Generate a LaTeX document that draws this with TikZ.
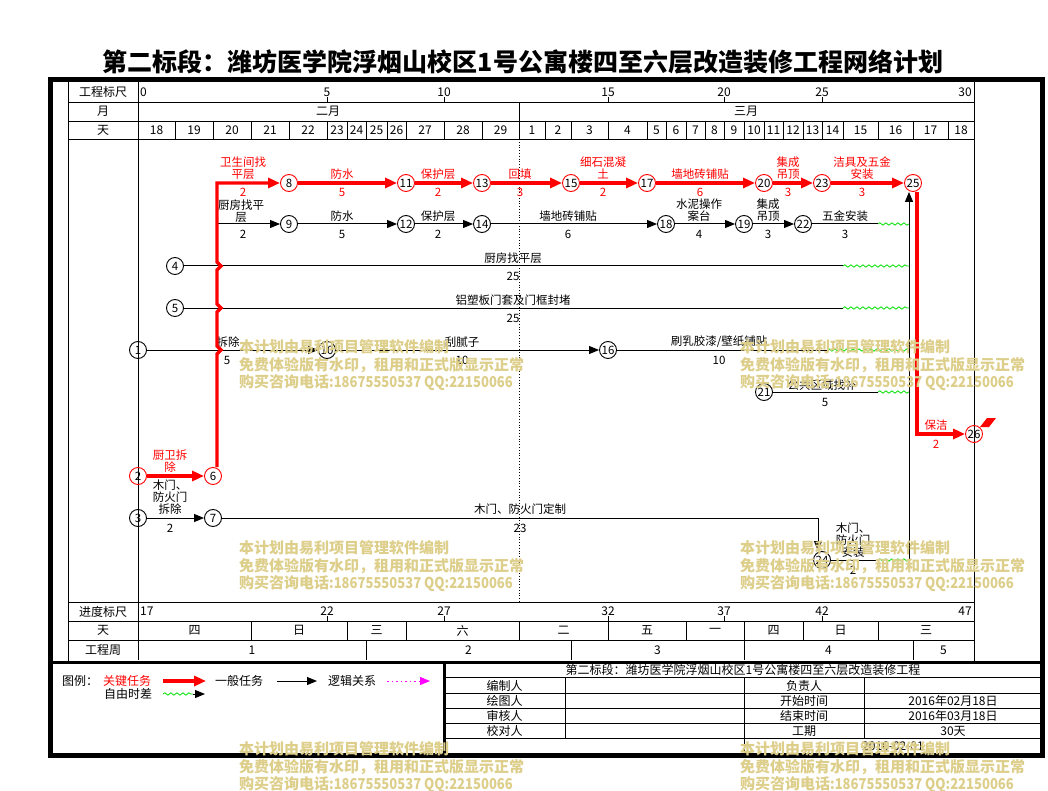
\documentclass[tikz,border=0pt]{standalone}
\usepackage{fontspec}
\setmainfont{Noto Sans CJK SC}
\usetikzlibrary{arrows.meta,decorations.pathmorphing}
\definecolor{wm}{RGB}{221,206,138}
\definecolor{wavec}{RGB}{0,225,0}
\definecolor{mag}{RGB}{255,0,255}
\begin{document}
\begin{tikzpicture}[x=1pt,y=-1pt,
  ev/.style={circle,draw,line width=0.9pt,inner sep=0pt,minimum size=17pt,font=\fontsize{11.5}{11.5}\selectfont},
  evr/.style={ev,draw=red},
  crit/.style={draw=red,line width=3.2pt,-{Triangle[length=12pt,width=10pt]}},
  norm/.style={draw=black,line width=1pt,-{Triangle[length=10pt,width=8pt]}},
  norml/.style={draw=black,line width=1pt},
  fw/.style={draw=wavec,line width=0.8pt,decorate,decoration={snake,amplitude=1.2pt,segment length=6pt}},
  lbl/.style={font=\fontsize{11.5}{12}\selectfont,align=center,inner sep=0pt},
  lblr/.style={lbl,text=red},
  cell/.style={font=\fontsize{12}{12}\selectfont,inner sep=0pt},
  gridl/.style={line width=0.9pt},
  wmk/.style={text=wm,font=\fontsize{15}{15}\selectfont\bfseries,anchor=west,inner sep=0pt},
]
\fill[white] (0,0) rectangle (1048,791);
\useasboundingbox (0,0) rectangle (1048,791);

% title
\node[font=\fontsize{25}{25}\selectfont\bfseries,inner sep=0pt] (title) at (523,62) {第二标段：潍坊医学院浮烟山校区1号公寓楼四至六层改造装修工程网络计划};

% frame and grid
\draw[line width=5pt] (50,80) rectangle (1042.5,755.5);
\draw[gridl] (68,82) -- (68,662);
\draw[gridl] (974,82) -- (974,662);
\draw[gridl] (138,82) -- (138,660);
\foreach \yy in {102,121,139,602,621,640} \draw[gridl] (68,\yy) -- (974,\yy);
\draw[line width=3pt] (50,662) -- (1042,662);
\draw[line width=3pt] (444,662) -- (444,755);
\foreach \yy in {677,693,708,723,738} \draw[gridl] (444,\yy) -- (1042,\yy);
\draw[gridl] (565,677) -- (565,738);
\draw[gridl] (744,677) -- (744,755);
\draw[gridl] (864,677) -- (864,738);
\draw[line width=0.8pt,dotted] (519,139) -- (519,602);

% left column labels
\node[cell] (h1) at (103,92) {工程标尺};
\node[cell] (h2) at (103,111.5) {月};
\node[cell] (h3) at (103,130.5) {天};
\node[cell] (h4) at (103,611.5) {进度标尺};
\node[cell] (h5) at (103,630.5) {天};
\node[cell] (h6) at (103,650) {工程周};

% top scale
\node[cell,anchor=west] (s0) at (140,92) {0};
\node[cell,anchor=east] (s30) at (972,92) {30};
\foreach \xx/\t in {327/5,444/10,608/15,724/20,822/25} {
  \draw[gridl] (\xx,94) -- (\xx,102);
  \node[cell,fill=white,inner sep=0.5pt] at (\xx,92) {\t};
}
% months
\draw[gridl] (519,102) -- (519,121);
\node[cell] (m2) at (328,111.5) {二月};
\node[cell] (m3) at (746,111.5) {三月};
% days
\foreach \a/\b/\t in {138/175/18,175/213/19,213/251/20,251/289/21,289/327/22,327/347/23,347/366/24,366/387/25,387/406/26,406/444/27,444/482/28,482/519/29,519/545/1,545/571/2,571/608/3,608/647/4,647/666/5,666/686/6,686/705/7,705/724/8,724/744/9,744/764/10,764/783/11,783/803/12,803/822/13,822/843/14,843/878/15,878/913/16,913/948/17,948/974/18} {
  \draw[gridl] (\b,121) -- (\b,139);
  \node[cell] at ({(\a+\b)/2},130.5) {\t};
}
% bottom scale
\node[cell,anchor=west] (p17) at (140,611.5) {17};
\node[cell,anchor=east] (p47) at (972,611.5) {47};
\foreach \xx/\t in {327/22,444/27,608/32,724/37,822/42} {
  \draw[gridl] (\xx,614) -- (\xx,621);
  \node[cell,fill=white,inner sep=0.5pt] at (\xx,611.5) {\t};
}
% weekdays
\foreach \a/\b/\t in {138/251/四,251/347/日,347/406/三,406/519/六,519/608/二,608/686/五,686/744/一,744/803/四,803/878/日,878/974/三} {
  \draw[gridl] (\b,621) -- (\b,640);
  \node[cell] at ({(\a+\b)/2},630.5) {\t};
}
% weeks
\foreach \a/\b/\t in {138/366/1,366/571/2,571/744/3,744/913/4,913/974/5} {
  \draw[gridl] (\b,640) -- (\b,660);
  \node[cell] at ({(\a+\b)/2},650) {\t};
}

% task labels - critical row
\node[lblr] at (243,168) {卫生间找\\平层};  \node[lblr] at (243,192) {2};
\node[lblr] at (342,174) {防水};            \node[lblr] at (342,192) {5};
\node[lblr] at (438,174) {保护层};          \node[lblr] at (438,192) {2};
\node[lblr] at (520,174) {回填};            \node[lblr] at (520,192) {3};
\node[lblr] at (603,168) {细石混凝\\土};    \node[lblr] at (603,192) {2};
\node[lblr] at (700,174) {墙地砖铺贴};      \node[lblr] at (700,192) {6};
\node[lblr] at (788,168) {集成\\吊顶};      \node[lblr] at (788,192) {3};
\node[lblr] at (862,168) {洁具及五金\\安装}; \node[lblr] at (862,192) {3};
% row 224
\node[lbl] at (241,211) {厨房找平\\层};      \node[lbl] at (243,234) {2};
\node[lbl] at (342,216) {防水};              \node[lbl] at (342,234) {5};
\node[lbl] at (438,216) {保护层};            \node[lbl] at (438,234) {2};
\node[lbl] at (568,216) {墙地砖铺贴};        \node[lbl] at (568,234) {6};
\node[lbl] at (699,210) {水泥操作\\案台};    \node[lbl] at (699,234) {4};
\node[lbl] at (768,210) {集成\\吊顶};        \node[lbl] at (768,234) {3};
\node[lbl] at (845,216) {五金安装};          \node[lbl] at (845,234) {3};
% other rows
\node[lbl] at (513,258) {厨房找平层};        \node[lbl] at (513,276) {25};
\node[lbl] at (513,300) {铝塑板门套及门框封堵}; \node[lbl] at (513,318) {25};
\node[lbl] at (228,342) {拆除};              \node[lbl] at (227,360) {5};
\node[lbl] at (462,342) {刮腻子};            \node[lbl] at (462,360) {10};
\node[lbl] at (719,342) {刷乳胶漆/壁纸铺贴}; \node[lbl] at (719,360) {10};
\node[lbl] at (822,385) {公共区域找补};      \node[lbl] at (825,402) {5};
\node[lblr] at (170,461) {厨卫拆\\除};
\node[lbl] at (170,497) {木门、\\防火门\\拆除}; \node[lbl] at (170,528) {2};
\node[lbl] at (520,509) {木门、防火门定制};  \node[lbl] at (520,528) {23};
\node[lbl] at (853,540) {木门、\\防火门\\安装}; \node[lbl] at (853,570) {2};
\node[lblr] at (936,425) {保洁};            \node[lblr] at (936,444) {2};

% event nodes
\node[ev]  (n1)  at (138,350) {1};
\node[evr] (n2)  at (138,476) {2};
\node[ev]  (n3)  at (138,518) {3};
\node[ev]  (n4)  at (175,266) {4};
\node[ev]  (n5)  at (175,308) {5};
\node[evr] (n6)  at (213,476) {6};
\node[ev]  (n7)  at (213,518) {7};
\node[evr] (n8)  at (289,183) {8};
\node[ev]  (n9)  at (289,224) {9};
\node[ev]  (n10) at (327,350) {10};
\node[evr] (n11) at (406,183) {11};
\node[ev]  (n12) at (406,224) {12};
\node[evr] (n13) at (482,183) {13};
\node[ev]  (n14) at (482,224) {14};
\node[evr] (n15) at (571,183) {15};
\node[ev]  (n16) at (608,350) {16};
\node[evr] (n17) at (647,183) {17};
\node[ev]  (n18) at (666,224) {18};
\node[ev]  (n19) at (744,224) {19};
\node[evr] (n20) at (764,183) {20};
\node[ev]  (n21) at (764,392) {21};
\node[ev]  (n22) at (803,224) {22};
\node[evr] (n23) at (822,183) {23};
\node[ev]  (n24) at (822,560) {24};
\node[evr] (n25) at (913,183) {25};
\node[evr] (n26) at (974,434) {26};
\fill[red] (980,427) -- (987,418) -- (996,418) -- (989,427) -- cycle;

% coordinates
\coordinate (b9) at (217,224);
\coordinate (rc) at (217,183);
\coordinate (w22) at (878,224);  \coordinate (e22) at (909,224);
\coordinate (w4) at (843,266);   \coordinate (e4) at (909,266);
\coordinate (w5) at (843,308);   \coordinate (e5) at (909,308);
\coordinate (w16) at (827,350);  \coordinate (e16) at (909,350);
\coordinate (w21) at (878,392);  \coordinate (e21) at (909,392);
\coordinate (w24) at (878,560);  \coordinate (v25) at (909,560);
\coordinate (c24) at (818,518);
\coordinate (r25) at (917,434);

% general (black) connectors
\draw[norm] (b9) -- (n9);
\draw[norm] (n9) -- (n12);
\draw[norm] (n12) -- (n14);
\draw[norm] (n14) -- (n18);
\draw[norm] (n18) -- (n19);
\draw[norm] (n19) -- (n22);
\draw[norml] (n22) -- (w22);  \draw[fw] (w22) -- (e22);
\draw[norml] (n4) -- (w4);    \draw[fw] (w4) -- (e4);
\draw[norml] (n5) -- (w5);    \draw[fw] (w5) -- (e5);
\draw[norm] (n1) -- (n10);
\draw[norm] (n10) -- (n16);
\draw[norml] (n16) -- (w16);  \draw[fw] (w16) -- (e16);
\draw[norml] (n21) -- (w21);  \draw[fw] (w21) -- (e21);
\draw[norm] (n3) -- (n7);
\draw[norm] (n7) -- (c24) -- (c24 |- n24.north);
\draw[norml] (n24) -- (w24);  \draw[fw] (w24) -- (v25);
\draw[norm] (v25) -- (v25 |- n25.south);

% critical (red) connectors
\draw[crit] (n2) -- (n6);
\draw[crit] (n6.north -| rc) -- (217,354) -- (221,350) -- (217,346) -- (217,312) -- (221,308) -- (217,304) -- (217,270) -- (221,266) -- (217,262) -- (rc) -- (n8);
\draw[crit] (n8) -- (n11);
\draw[crit] (n11) -- (n13);
\draw[crit] (n13) -- (n15);
\draw[crit] (n15) -- (n17);
\draw[crit] (n17) -- (n20);
\draw[crit] (n20) -- (n23);
\draw[crit] (n23) -- (n25);
\draw[crit] (n25.south -| r25) -- (r25) -- (n26);

% legend
\node[cell,anchor=west] (lg) at (62,681) {图例：};
\node[cell,text=red] (lg1) at (127,681) {关键任务};
\coordinate (la1) at (163,681); \coordinate (la2) at (206,681);
\draw[crit] (la1) -- (la2);
\node[cell] (lg2) at (239,681) {一般任务};
\coordinate (lb1) at (277,681); \coordinate (lb2) at (317,681);
\draw[norm] (lb1) -- (lb2);
\node[cell] (lg3) at (352,681) {逻辑关系};
\coordinate (lc1) at (387,681); \coordinate (lc2) at (430,681);
\draw[draw=mag,line width=1pt,dash pattern=on 1.5pt off 3pt,-{Triangle[length=10pt,width=8pt]}] (lc1) -- (lc2);
\node[cell] (lg4) at (128,694) {自由时差};
\coordinate (ld1) at (163,694); \coordinate (ld2) at (193,694); \coordinate (ld3) at (205,694);
\draw[fw] (ld1) -- (ld2);
\draw[norm] (ld2) -- (ld3);

% title block
\node[cell] (tb0) at (743,670) {第二标段：潍坊医学院浮烟山校区1号公寓楼四至六层改造装修工程};
\node[cell] at (504.5,685.5) {编制人};
\node[cell] at (504.5,700.5) {绘图人};
\node[cell] at (504.5,716) {审核人};
\node[cell] at (504.5,731) {校对人};
\node[cell] at (804,685.5) {负责人};
\node[cell] at (804,700.5) {开始时间};
\node[cell] at (804,716) {结束时间};
\node[cell] at (804,731) {工期};
\node[cell] at (953,700.5) {2016年02月18日};
\node[cell] at (953,716) {2016年03月18日};
\node[cell] at (953,731) {30天};
\node[cell] at (893,746) {2016-02-01};

% watermarks
\foreach \wx/\wy in {239/347,740/347,239/548,740/548,239/749,740/749} {
  \node[wmk] at (\wx,\wy) {本计划由易利项目管理软件编制};
  \node[wmk] at (\wx,\wy+18.5) {免费体验版有水印，租用和正式版显示正常};
  \node[wmk] at (\wx,\wy+36) {购买咨询电话{\addfontfeatures{FakeStretch=0.87}:18675550537 QQ:22150066}};
}
\end{tikzpicture}
\end{document}
